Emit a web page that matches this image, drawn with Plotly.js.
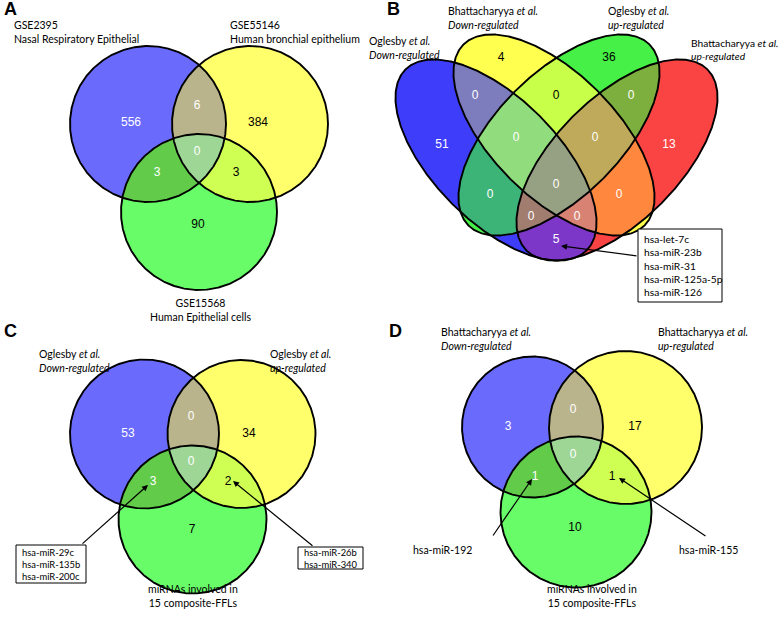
<!DOCTYPE html>
<html><head><meta charset="utf-8">
<script src="https://cdn.plot.ly/plotly-3.0.1.min.js"></script>
<style>body{margin:0;background:#fff}</style>
</head><body><div id="plot" style="width:778px;height:619px"></div>
<script>
// ---------------- DATA ----------------
const regionKeys3 = ['100','010','001','110','101','011','111'];
const panelA_sets = ['GSE2395<br>Nasal Respiratory Epithelial','GSE55146<br>Human bronchial epithelium','GSE15568<br>Human Epithelial cells'];
const panelA_counts = [556, 384, 90, 6, 3, 3, 0];

const regionKeys4 = ['1000','0100','0010','0001','1100','0110','0011','1010','0101','1001','1110','0111','1011','1101','1111'];
const panelB_sets = ['Oglesby <i>et al.</i><br><i>Down-regulated</i>','Bhattacharyya <i>et al.</i><br><i>Down-regulated</i>','Oglesby <i>et al.</i><br><i>up-regulated</i>','Bhattacharyya <i>et al.</i><br><i>up-regulated</i>'];
const panelB_counts = [51, 4, 36, 13, 0, 0, 0, 0, 0, 5, 0, 0, 0, 0, 0];
const panelB_callout = ['hsa-let-7c','hsa-miR-23b','hsa-miR-31','hsa-miR-125a-5p','hsa-miR-126'];

const panelC_sets = ['Oglesby <i>et al.</i><br><i>Down-regulated</i>','Oglesby <i>et al.</i><br><i>up-regulated</i>','miRNAs involved in<br>15 composite-FFLs'];
const panelC_counts = [53, 34, 7, 0, 3, 2, 0];
const panelC_calloutLeft = ['hsa-miR-29c','hsa-miR-135b','hsa-miR-200c'];
const panelC_calloutRight = ['hsa-miR-26b','hsa-miR-340'];

const panelD_sets = ['Bhattacharyya <i>et al.</i><br><i>Down-regulated</i>','Bhattacharyya <i>et al.</i><br><i>up-regulated</i>','miRNAs involved in<br>15 composite-FFLs'];
const panelD_counts = [3, 17, 10, 0, 1, 1, 0];
const panelD_calloutLeft = ['hsa-miR-192'];
const panelD_calloutRight = ['hsa-miR-155'];

// ---------------- LAYOUT / STYLE ----------------
const deg = Math.PI/180;
const col3 = {'100':'rgb(106,106,252)','010':'rgb(255,255,108)','001':'rgb(104,252,104)',
  '110':'rgb(186,180,140)','101':'rgb(98,204,74)','011':'rgb(206,255,82)','111':'rgb(158,214,150)'};
const txt3 = {'100':'#fff','010':'#000','001':'#000','110':'#fff','101':'#fff','011':'#000','111':'#fff'};
const col4 = {'1000':'rgb(62,62,250)','0100':'rgb(255,255,80)','0010':'rgb(70,240,70)','0001':'rgb(250,68,68)',
  '1100':'rgb(125,125,190)','0110':'rgb(200,255,72)','0011':'rgb(125,175,62)','1010':'rgb(60,180,120)',
  '0101':'rgb(255,135,62)','1001':'rgb(125,55,200)','1110':'rgb(145,220,125)','0111':'rgb(190,170,90)',
  '1011':'rgb(160,125,110)','1101':'rgb(215,130,115)','1111':'rgb(150,160,130)'};
const txt4 = {'1000':'#fff','0100':'#000','0010':'#000','0001':'#fff','1100':'#fff','0110':'#000','0011':'#fff',
  '1010':'#fff','0101':'#fff','1001':'#fff','1110':'#fff','0111':'#fff','1011':'#fff','1101':'#fff','1111':'#fff'};

const geomA = {shapes:[{cx:148,cy:124,a:78,b:78,ang:0},{cx:250,cy:124,a:78,b:78,ang:0},{cx:199,cy:212,a:78,b:78,ang:0}],
  pos:{'100':[131,123],'010':[258,123],'001':[198,225],'110':[197,106],'101':[157,173],'011':[236,173],'111':[197,152]}};
const EA=128, EB=62;
const geomB = {shapes:[{cx:496,cy:160,a:EA,b:EB,ang:45*deg},{cx:554,cy:135,a:EA,b:EB,ang:45*deg},
  {cx:559,cy:135,a:EA,b:EB,ang:-45*deg},{cx:617,cy:160,a:EA,b:EB,ang:-45*deg}],
  pos:{'1000':[442,145],'0100':[501,58],'0010':[609,58],'0001':[669,145],'1100':[475,96],'0110':[556,96],'0011':[631,96],
   '1110':[516,138],'0111':[595,138],'1010':[490,195],'1111':[556,185],'0101':[619,195],'1011':[531,217],'1101':[577,217],'1001':[556,240]}};
const geomC = {shapes:[{cx:144.5,cy:434,a:74.5,b:74.5,ang:0},{cx:241.5,cy:434,a:74,b:74,ang:0},{cx:192.5,cy:519.5,a:74,b:74,ang:0}],
  pos:{'100':[128,434],'010':[249,434],'001':[192,530],'110':[191,417],'101':[153,482],'011':[228,482],'111':[191,462]}};
const geomD = {shapes:[{cx:532.5,cy:427,a:70.5,b:70.5,ang:0},{cx:625.5,cy:427.5,a:76.5,b:76.5,ang:0},{cx:576,cy:512,a:75.5,b:75.5,ang:0}],
  pos:{'100':[508,427],'010':[635,427],'001':[575,528],'110':[573,410],'101':[535,477],'011':[612,477],'111':[573,455]}};

// ---------------- GEOMETRY HELPERS ----------------
function inside(sh,x,y){const dx=x-sh.cx,dy=y-sh.cy,c=Math.cos(sh.ang),s=Math.sin(sh.ang);
  const u=dx*c+dy*s,v=-dx*s+dy*c;return (u*u)/(sh.a*sh.a)+(v*v)/(sh.b*sh.b)<=1+1e-9;}
function boundary(sh,n){const c=Math.cos(sh.ang),s=Math.sin(sh.ang),p=[];
  for(let i=0;i<=n;i++){const t=2*Math.PI*i/n,u=sh.a*Math.cos(t),v=sh.b*Math.sin(t);p.push([sh.cx+u*c-v*s,sh.cy+u*s+v*c]);}return p;}
function interPoly(shs){let pts=[];shs.forEach((sh,i)=>{boundary(sh,1440).forEach(p=>{
   if(shs.every((o,j)=>j===i||inside(o,p[0],p[1])))pts.push(p);});});
  if(pts.length<3)return null;let mx=0,my=0;pts.forEach(p=>{mx+=p[0];my+=p[1];});mx/=pts.length;my/=pts.length;
  pts.sort((a,b)=>Math.atan2(a[1]-my,a[0]-mx)-Math.atan2(b[1]-my,b[0]-mx));pts.push(pts[0]);return pts;}

const traces=[];
function addVenn(geom,keys,counts,colors,tcolors){
  const order=keys.slice().sort((a,b)=>a.split('1').length-b.split('1').length);
  order.forEach(k=>{const shs=geom.shapes.filter((s,i)=>k[i]==='1');const poly=interPoly(shs);if(!poly)return;
    traces.push({type:'scatter',mode:'lines',x:poly.map(p=>p[0]),y:poly.map(p=>p[1]),fill:'toself',
      fillcolor:colors[k],line:{width:0.5,color:colors[k]},hoverinfo:'skip',showlegend:false});});
  geom.shapes.forEach(sh=>{const b=boundary(sh,720);traces.push({type:'scatter',mode:'lines',x:b.map(p=>p[0]),y:b.map(p=>p[1]),
    line:{color:'#000',width:1.9},hoverinfo:'skip',showlegend:false});});
  traces.push({type:'scatter',mode:'text',x:keys.map(k=>geom.pos[k][0]),y:keys.map(k=>geom.pos[k][1]),
    text:counts.map(String),textfont:{family:'Liberation Sans, Arial',size:12,color:keys.map(k=>tcolors[k])},
    hoverinfo:'skip',showlegend:false});
}
addVenn(geomA,regionKeys3,panelA_counts,col3,txt3);
addVenn(geomB,regionKeys4,panelB_counts,col4,txt4);
addVenn(geomC,regionKeys3,panelC_counts,col3,txt3);
addVenn(geomD,regionKeys3,panelD_counts,col3,txt3);

const LF='Lato, Carlito, sans-serif';
const ann=[];
function lab(x,y,t,xa,al,sz){ann.push({x:x,y:y,xref:'x',yref:'y',text:t,showarrow:false,xanchor:xa||'left',yanchor:'middle',align:al||'left',font:{family:LF,size:sz||10.5,color:'#000'}});}
function letter(x,y,t){ann.push({x:x,y:y,xref:'x',yref:'y',text:'<b>'+t+'</b>',showarrow:false,xanchor:'left',yanchor:'middle',font:{family:'Liberation Sans, Arial',size:18,color:'#000'}});}
function arrow(tx,ty,hx,hy){ann.push({x:hx,y:hy,ax:tx,ay:ty,xref:'x',yref:'y',axref:'x',ayref:'y',text:'',showarrow:true,arrowhead:2,arrowsize:1,arrowwidth:1.2,arrowcolor:'#000',standoff:0});}

letter(2,9,'A'); letter(385,9,'B'); letter(2,331,'C'); letter(387,331,'D');
// A
lab(12,31.5,panelA_sets[0]); lab(228,31.5,panelA_sets[1]); lab(200,309.5,panelA_sets[2],'center','center');
// B
lab(367,47.5,panelB_sets[0]); lab(446,18,panelB_sets[1]); lab(606,18,panelB_sets[2]); lab(689,49,panelB_sets[3],'left','left',10.2);
// C
lab(37,360.5,panelC_sets[0]); lab(268,360.5,panelC_sets[1]); lab(193,596,panelC_sets[2],'center','center');
// D
lab(439,339,panelD_sets[0]); lab(656,339,panelD_sets[1]); lab(592,596,panelD_sets[2],'center','center');

// callouts
const shapes=[];
function box(x0,y0,x1,y1){shapes.push({type:'rect',xref:'x',yref:'y',x0:x0,y0:y0,x1:x1,y1:y1,line:{color:'#000',width:1},fillcolor:'#fff'});}
box(638,229,722,302); lab(642,265.5,panelB_callout.join('<br>'),'left','left',10.25);
arrow(638,256,561,246);
box(16,545,86,583); lab(19.5,564,panelC_calloutLeft.join('<br>'),'left','left',9.4);
arrow(81,545,148,485);
box(298,547,363,569); lab(302,558,panelC_calloutRight.join('<br>'),'left','left',9.4);
arrow(314,547,233,481);
lab(442,550,panelD_calloutLeft.join('<br>'),'center','center');
arrow(492,537,532,479);
lab(708,550,panelD_calloutRight.join('<br>'),'center','center');
arrow(707,537,619,478);

Plotly.newPlot('plot',traces,{width:778,height:619,margin:{l:0,r:0,t:0,b:0},
  xaxis:{range:[0,778],visible:false,fixedrange:true},yaxis:{range:[619,0],visible:false,fixedrange:true},
  paper_bgcolor:'#fff',plot_bgcolor:'#fff',showlegend:false,annotations:ann,shapes:shapes},{staticPlot:true});
</script></body></html>
